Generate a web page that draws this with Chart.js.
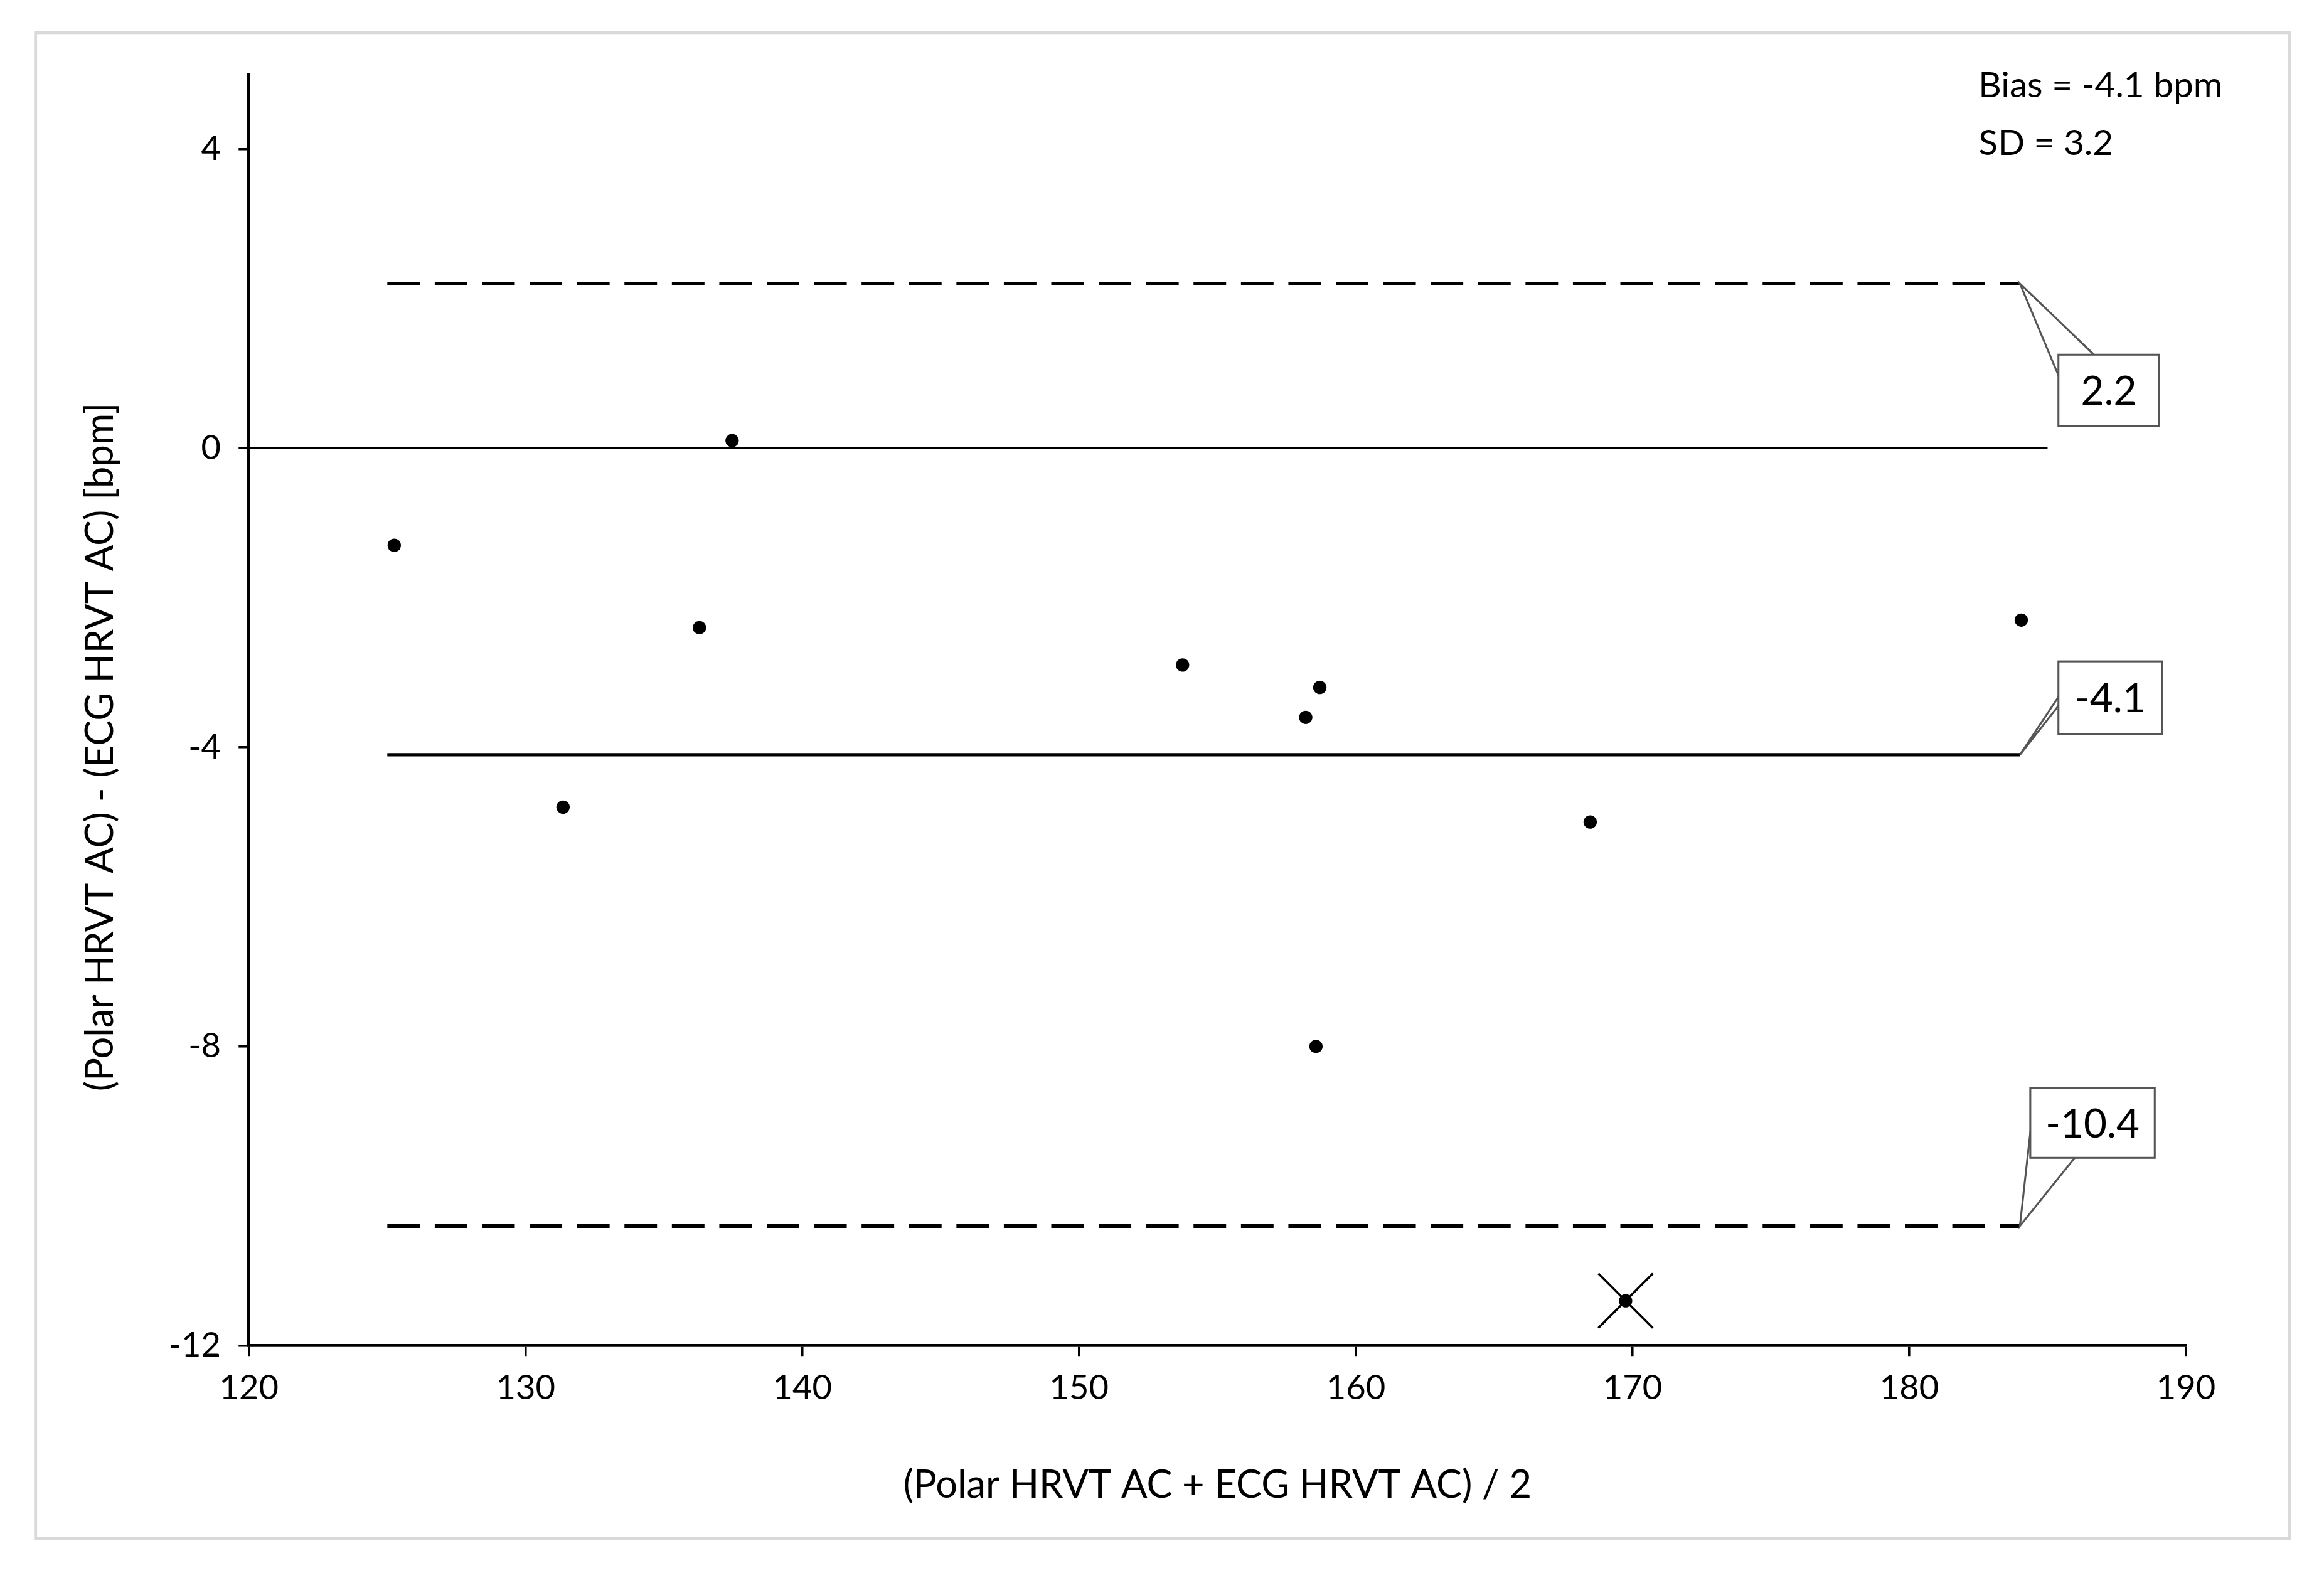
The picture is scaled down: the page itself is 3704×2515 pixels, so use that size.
<!DOCTYPE html>
<html>
<head>
<meta charset="utf-8">
<script src="https://cdn.jsdelivr.net/npm/chart.js@4.4.1/dist/chart.umd.min.js"></script>
<style>
  html, body { margin: 0; padding: 0; background: #fff; }
  #wrap { width: 3704px; height: 2515px; position: relative; }
</style>
</head>
<body>
<div id="wrap"><canvas id="c" width="3704" height="2515"></canvas></div>
<script>
// values
var meanX = [125.25, 137.46, 136.28, 131.35, 153.74, 158.19, 158.7, 158.56, 168.47, 184.05];
var diffY = [-1.3, 0.1, -2.4, -4.8, -2.9, -3.6, -3.2, -8.0, -5.0, -2.3];
var outlierX = [169.75];
var outlierY = [-11.4];
var bias = -4.1;
var upperLoA = 2.2;
var lowerLoA = -10.4;
var lineFrom = 125;
var lineTo = 184;
var yTicks = [-12, -8, -4, 0, 4];
var xTicks = [120, 130, 140, 150, 160, 170, 180, 190];

var S = 2.362; // scale from picture px to canvas px
var FONT = "Lato, 'Open Sans', sans-serif";

function pts(xs, ys) {
  return xs.map(function(x, i) { return {x: x, y: ys[i]}; });
}
function hline(y, a, b) { return [{x: a, y: y}, {x: b, y: y}]; }

// border, titles, text and callout boxes
var decor = {
  id: 'decor',
  beforeDraw: function(chart) {
    var ctx = chart.ctx;
    ctx.save();
    ctx.fillStyle = '#fff';
    ctx.fillRect(0, 0, chart.width, chart.height);
    ctx.strokeStyle = '#d9d9d9';
    ctx.lineWidth = 2 * S;
    ctx.strokeRect(24 * S, 22 * S, 1521 * S, 1016 * S);
    ctx.restore();
  },
  afterDraw: function(chart) {
    var ctx = chart.ctx, xs = chart.scales.x, ys = chart.scales.y;
    ctx.save();
    ctx.fillStyle = '#000';
    ctx.textBaseline = 'middle';
    // axis titles
    ctx.font = (26 * S) + 'px ' + FONT;
    ctx.textAlign = 'center';
    ctx.fillText('(Polar HRVT AC + ECG HRVT AC) / 2', (xs.left + xs.right) / 2, 1002 * S);
    ctx.save();
    ctx.translate(68 * S, (ys.top + ys.bottom) / 2 + 25 * S);
    ctx.rotate(-Math.PI / 2);
    ctx.fillText('(Polar HRVT AC) - (ECG HRVT AC) [bpm]', 0, 0);
    ctx.restore();

    ctx.font = (24 * S) + 'px ' + FONT;
    ctx.textAlign = 'left';
    ctx.fillText('Bias = -4.1 bpm', 1335 * S, 58 * S);
    ctx.fillText('SD = 3.2', 1335 * S, 97 * S);

    function callout(val, text, bx, by, bw, bh, w1, w2) {
      var ax = xs.getPixelForValue(lineTo), ay = ys.getPixelForValue(val);
      var x0 = ax + bx * S, y0 = ay + by * S, w = bw * S, h = bh * S;
      ctx.lineWidth = 1.3 * S;
      ctx.strokeStyle = '#555';
      ctx.fillStyle = '#fff';
      ctx.beginPath();
      ctx.moveTo(ax, ay);
      ctx.lineTo(x0 + w1[0] * S, y0 + w1[1] * S);
      ctx.lineTo(x0 + w2[0] * S, y0 + w2[1] * S);
      ctx.closePath();
      ctx.fill();
      ctx.stroke();
      ctx.fillRect(x0, y0, w, h);
      ctx.strokeRect(x0, y0, w, h);
      ctx.fillStyle = '#fff';
      ctx.fillRect(x0 + 1 * S, y0 + 1 * S, w - 2 * S, h - 2 * S);
      ctx.fillStyle = '#000';
      ctx.font = (27 * S) + 'px ' + FONT;
      ctx.textAlign = 'center';
      ctx.fillText(text, x0 + w / 2, y0 + h / 2 + 1 * S);
    }
    callout(upperLoA, '2.2', 26, 48, 68, 48, [0, 14], [24, 0]);
    callout(bias, '-4.1', 26, -63, 70, 49, [0, 30], [16, 0]);
    callout(lowerLoA, '-10.4', 7, -93, 84, 47, [0, 30], [30, 47]);
    ctx.restore();
  }
};

new Chart(document.getElementById('c'), {
  type: 'scatter',
  data: {
    datasets: [
      { data: hline(0, 120, 185), showLine: true, borderColor: '#000', borderWidth: 1.3 * S, pointRadius: 0 },
      { data: hline(bias, lineFrom, lineTo), showLine: true, borderColor: '#000', borderWidth: 2.2 * S, pointRadius: 0 },
      { data: hline(upperLoA, lineFrom, lineTo), showLine: true, borderColor: '#000', borderWidth: 2.5 * S, borderDash: [22 * S, 10 * S], pointRadius: 0 },
      { data: hline(lowerLoA, lineFrom, lineTo), showLine: true, borderColor: '#000', borderWidth: 2.5 * S, borderDash: [22 * S, 10 * S], pointRadius: 0 },
      { data: pts(meanX, diffY), pointRadius: 4.5 * S, backgroundColor: '#000', borderColor: '#000', borderWidth: 0 },
      { data: pts(outlierX, outlierY), pointRadius: 4.5 * S, backgroundColor: '#000', borderColor: '#000', borderWidth: 0 },
      { data: pts(outlierX, outlierY), pointStyle: 'crossRot', pointRadius: 26 * S, borderColor: '#000', borderWidth: 1.5 * S }
    ]
  },
  options: {
    responsive: false,
    animation: false,
    events: [],
    layout: { padding: { top: 50 * S, right: 3704 - 1475 * S, left: 0, bottom: 0 } },
    plugins: { legend: { display: false }, tooltip: { enabled: false } },
    scales: {
      x: {
        type: 'linear', min: 120, max: 190,
        afterBuildTicks: function(sc) { sc.ticks = xTicks.map(function(v) { return {value: v}; }); },
        afterFit: function(sc) { sc.height = 2515 - 908 * S; },
        grid: { drawOnChartArea: false, color: '#000', lineWidth: 1.5 * S, tickLength: 7 * S },
        border: { color: '#000', width: 2 * S },
        ticks: { color: '#000', font: { family: FONT, size: 23 * S }, padding: 8 * S }
      },
      y: {
        type: 'linear', min: -12, max: 5,
        afterBuildTicks: function(sc) { sc.ticks = yTicks.map(function(v) { return {value: v}; }); },
        afterFit: function(sc) { sc.width = 168 * S; },
        grid: { drawOnChartArea: false, color: '#000', lineWidth: 1.5 * S, tickLength: 7 * S },
        border: { color: '#000', width: 2 * S },
        ticks: { color: '#000', font: { family: FONT, size: 23 * S }, padding: 12 * S }
      }
    }
  },
  plugins: [decor]
});
</script>
</body>
</html>
